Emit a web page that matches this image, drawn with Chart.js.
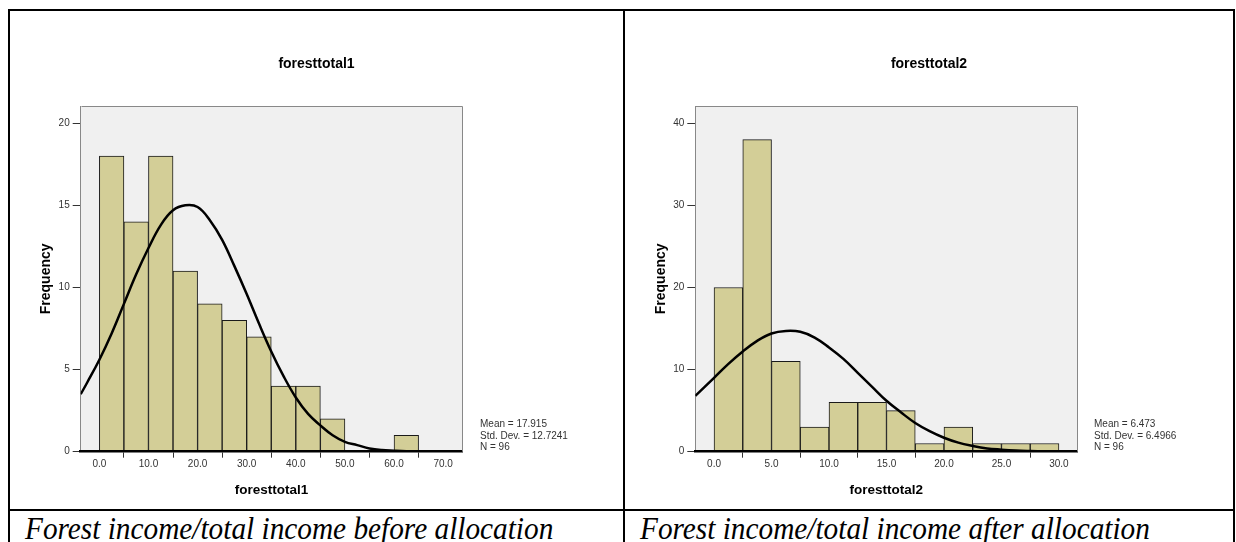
<!DOCTYPE html>
<html>
<head>
<meta charset="utf-8">
<script src="https://cdn.jsdelivr.net/npm/chart.js@4.4.0/dist/chart.umd.min.js"></script>
<style>
  body { margin: 0; width: 1236px; height: 542px; background: #fff; position: relative; overflow: hidden;
         font-family: "Liberation Sans", Arial, sans-serif; }
  .rule { position: absolute; background: #000; }
  canvas { position: absolute; }
  .stats { position: absolute; font-size: 10px; line-height: 11.5px; color: #333; white-space: nowrap; }
  .caption { position: absolute; font-family: "Liberation Serif", "Times New Roman", serif; font-style: italic;
             font-size: 31px; line-height: 31px; white-space: nowrap; color: #000;
             transform: scaleX(0.945); transform-origin: left top; }
</style>
</head>
<body>

<!-- table rules -->
<div class="rule" style="left:8px; top:9px; width:1227px; height:2px"></div>
<div class="rule" style="left:8px; top:9px; width:2px; height:540px"></div>
<div class="rule" style="left:623px; top:9px; width:2px; height:540px"></div>
<div class="rule" style="left:1233px; top:9px; width:2px; height:540px"></div>
<div class="rule" style="left:8px; top:509px; width:1227px; height:2px"></div>

<canvas id="hist1" width="613" height="498" style="left:10px; top:11px"></canvas>
<canvas id="hist2" width="608" height="498" style="left:625px; top:11px"></canvas>

<div class="stats" style="left:480px; top:418px">Mean = 17.915<br>Std. Dev. = 12.7241<br>N = 96</div>
<div class="stats" style="left:1094px; top:418px">Mean = 6.473<br>Std. Dev. = 6.4966<br>N = 96</div>

<div class="caption" style="left:25px; top:513px">Forest income/total income before allocation</div>
<div class="caption" style="left:640px; top:513px">Forest income/total income after allocation</div>

<script>
// ── Data: foresttotal1 (bin width 5) ───────────────────────────
const bins1   = [2.5, 7.5, 12.5, 17.5, 22.5, 27.5, 32.5, 37.5, 42.5, 47.5, 52.5, 57.5, 62.5];
const counts1 = [18, 14, 18, 11, 9, 8, 7, 4, 4, 2, 0, 0, 1];
const curveX1 = [-3.8, -2.5, 0, 2.5, 5, 7.5, 10, 12.5, 15, 17.5, 20, 22.5, 25, 27.5, 30,
                 32.5, 35, 37.5, 40, 42.5, 45, 47.5, 50, 52.5, 55, 57.5, 60, 62.5, 65, 67.5];
const curveY1 = [3.5, 4.2, 5.6, 7.2, 9.0, 10.8, 12.4, 13.8, 14.7, 15.0, 14.9, 14.1, 12.9, 11.3, 9.6,
                 7.8, 6.1, 4.6, 3.3, 2.3, 1.6, 1.0, 0.6, 0.4, 0.2, 0.1, 0.06, 0.03, 0.02, 0.01];
const xTicks1 = [0, 10, 20, 30, 40, 50, 60, 70];
const yTicks1 = [0, 5, 10, 15, 20];

// ── Data: foresttotal2 (bin width 2.5) ─────────────────────────
const bins2   = [1.25, 3.75, 6.25, 8.75, 11.25, 13.75, 16.25, 18.75, 21.25, 23.75, 26.25, 28.75];
const counts2 = [20, 38, 11, 3, 6, 6, 5, 1, 3, 1, 1, 1];
const curveX2 = [-1.63, 0, 1.25, 2.5, 3.75, 5, 6.25, 7.5, 8.75, 10, 11.25, 12.5, 13.75, 15, 16.25,
                 17.5, 18.75, 20, 21.25, 22.5, 23.75, 25, 26.25, 27.5, 28.75, 30];
const curveY2 = [6.8, 9.0, 10.7, 12.2, 13.5, 14.4, 14.7, 14.6, 13.9, 12.7, 11.3, 9.6, 7.9, 6.2, 4.8,
                 3.5, 2.5, 1.7, 1.1, 0.7, 0.4, 0.25, 0.14, 0.08, 0.04, 0.02];
const xTicks2 = [0, 5, 10, 15, 20, 25, 30];
const yTicks2 = [0, 10, 20, 30, 40];


Chart.defaults.font.family = '"Liberation Sans", Arial, sans-serif';

// ── Plot background + grey frame (SPSS look) ───────────────────
const plotFrame = {
  id: 'plotFrame',
  beforeDraw(chart) {
    const { ctx, chartArea: a } = chart;
    ctx.save();
    ctx.fillStyle = '#f0f0f0';
    ctx.fillRect(a.left, a.top, a.right - a.left, a.bottom - a.top);
    ctx.restore();
  },
  afterDraw(chart) {
    const { ctx, chartArea: a } = chart;
    ctx.save();
    ctx.strokeStyle = '#888';
    ctx.lineWidth = 1;
    ctx.beginPath();
    ctx.moveTo(Math.round(a.left) + 0.5, Math.round(a.top) + 0.5);
    ctx.lineTo(Math.round(a.right) + 0.5, Math.round(a.top) + 0.5);
    ctx.lineTo(Math.round(a.right) + 0.5, a.bottom);
    ctx.stroke();
    ctx.restore();
  }
};


// ── Histogram builder ──────────────────────────────────────────
function drawHistogram(id, o) {
  return new Chart(document.getElementById(id), {
    type: 'bar',
    data: {
      datasets: [
        {
          type: 'line',
          data: o.curveX.map((x, i) => ({ x: x, y: o.curveY[i] })),
          borderColor: '#000',
          borderWidth: 2.5,
          pointRadius: 0,
          tension: 0.4,
          fill: false,
          order: 0
        },
        {
          type: 'bar',
          data: o.bins.map((x, i) => ({ x: x, y: o.counts[i] })),
          backgroundColor: '#d3ce97',
          borderColor: '#1a1a1a',
          borderWidth: 1,
          borderSkipped: false,
          barPercentage: 1,
          categoryPercentage: 1,
          order: 1
        }
      ]
    },
    options: {
      responsive: false,
      animation: false,
      devicePixelRatio: 1,
      layout: { padding: 0 },
      plugins: {
        legend: { display: false },
        tooltip: { enabled: false },
        title: {
          display: true,
          text: o.title,
          color: '#000',
          font: { size: 14, weight: 'bold' },
          padding: { top: 44.6, bottom: 33.6 }
        }
      },
      scales: {
        x: {
          type: 'linear',
          min: o.xMin,
          max: o.xMax,
          offset: false,
          afterBuildTicks: s => { s.ticks = o.xTicks.map(v => ({ value: v })); },
          afterFit: s => { s.height = 57.3; },
          grid: { drawOnChartArea: false, drawTicks: true, tickLength: 6, tickColor: '#333' },
          border: { display: true, color: '#000', width: 2.5, z: 1 },
          ticks: { color: '#333', font: { size: 10 }, padding: 1, maxRotation: 0, autoSkip: false,
                   callback: v => v.toFixed(1) },
          title: { display: true, text: o.title, color: '#000',
                   font: { size: 13.5, weight: 'bold' }, padding: { top: 0, bottom: 10.9 } }
        },
        y: {
          min: 0,
          max: o.yMax,
          afterBuildTicks: s => { s.ticks = o.yTicks.map(v => ({ value: v })); },
          afterFit: s => { s.width = o.yWidth; },
          grid: { drawOnChartArea: false, drawTicks: true, tickLength: 8, tickColor: '#333' },
          border: { display: true, color: '#888', width: 1 },
          ticks: { color: '#333', font: { size: 10 }, padding: 3 },
          title: { display: true, text: 'Frequency', color: '#000',
                   font: { size: 14, weight: 'bold' }, padding: { top: 27.6, bottom: 0 } }
        },
        // empty right-hand axis: reserves the space where the stats block sits
        statsGap: {
          type: 'linear',
          position: 'right',
          grid: { display: false },
          border: { display: false },
          ticks: { display: false },
          afterFit: s => { s.width = o.padRight; }
        }
      }
    },
    plugins: [plotFrame]
  });
}

drawHistogram('hist1', {
  title: 'foresttotal1', bins: bins1, counts: counts1, curveX: curveX1, curveY: curveY1,
  xTicks: xTicks1, yTicks: yTicks1, xMin: -3.8, xMax: 73.9, yMax: 21.05,
  yWidth: 70.7, padRight: 160.7
});

drawHistogram('hist2', {
  title: 'foresttotal2', bins: bins2, counts: counts2, curveX: curveX2, curveY: curveY2,
  xTicks: xTicks2, yTicks: yTicks2, xMin: -1.63, xMax: 31.57, yMax: 42.1,
  yWidth: 70.3, padRight: 156
});
</script>
</body>
</html>
